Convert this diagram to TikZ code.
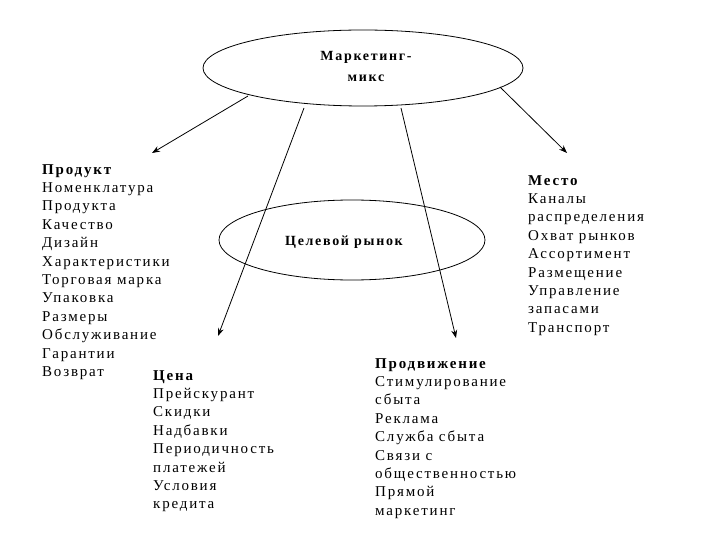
\documentclass[tikz,border=0pt]{standalone}
\usepackage{fontspec}
\setmainfont{Liberation Serif}[LetterSpace=12]
\usetikzlibrary{shapes.geometric,arrows.meta}
\begin{document}
\begin{tikzpicture}[x=1pt,y=-1pt,
  oval/.style={draw,thick,ellipse,inner sep=0},
  conn/.style={thick,-{Stealth[length=8pt,width=6pt]}},
  blk/.style={anchor=north west,align=left,inner sep=0,font=\fontsize{15}{18.4}\selectfont}]
\useasboundingbox (0,0) rectangle (720,540);
\node[oval,minimum width=320,minimum height=76] (mm) at (363,68) {};
\node[font=\bfseries\fontsize{14}{21}\selectfont,align=center] (mmt) at (366,66) {Маркетинг-\\микс};
\node[oval,minimum width=266,minimum height=80] (cr) at (352,240) {};
\node[font=\bfseries\fontsize{14}{16}\selectfont] (crt) at (344,242) {Целевой рынок};
\node[blk] (prod) at (42,164) {{\bfseries Продукт}\\Номенклатура\\Продукта\\Качество\\Дизайн\\Характеристики\\Торговая марка\\Упаковка\\Размеры\\Обслуживание\\Гарантии\\Возврат};
\node[blk] (mest) at (528,175) {{\bfseries Место}\\Каналы\\распределения\\Охват рынков\\Ассортимент\\Размещение\\Управление\\запасами\\Транспорт};
\node[blk] (cena) at (153,370) {{\bfseries Цена}\\Прейскурант\\Скидки\\Надбавки\\Периодичность\\платежей\\Условия\\кредита};
\node[blk] (prodv) at (375,358) {{\bfseries Продвижение}\\Стимулирование\\сбыта\\Реклама\\Служба сбыта\\Связи с\\общественностью\\Прямой\\маркетинг};
\coordinate (a1) at (248,96); \coordinate (b1) at (152,153);
\coordinate (a2) at (304,108); \coordinate (b2) at (218,336);
\coordinate (a3) at (401,108); \coordinate (b3) at (456,338);
\coordinate (a4) at (500,87); \coordinate (b4) at (567,153);
\draw[conn] (a1) -- (b1);
\draw[conn] (a2) -- (b2);
\draw[conn] (a3) -- (b3);
\draw[conn] (a4) -- (b4);
\end{tikzpicture}
\end{document}
